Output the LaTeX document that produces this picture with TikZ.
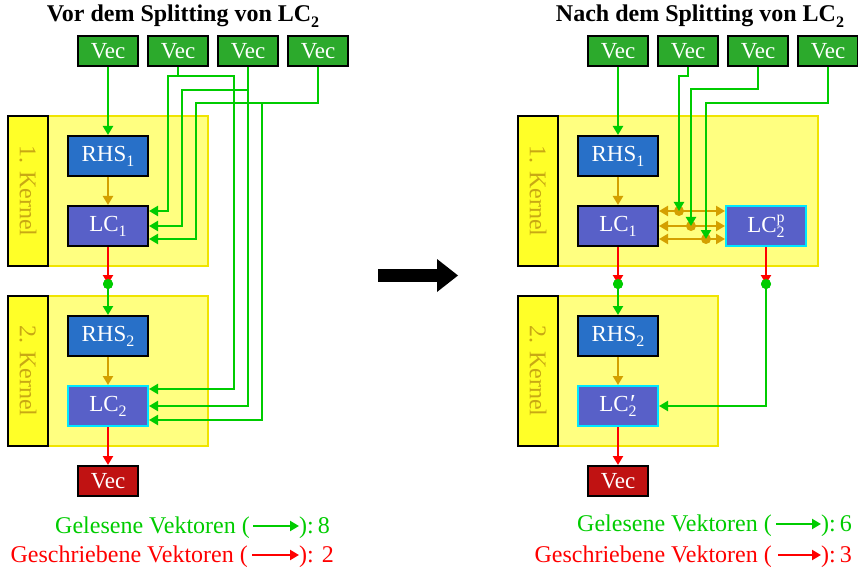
\documentclass[tikz,border=0pt]{standalone}
\usepackage{fontspec}
\setmainfont{Liberation Serif}
\usetikzlibrary{arrows.meta}
\definecolor{vecg}{RGB}{44,170,44}
\definecolor{vecr}{RGB}{192,18,18}
\definecolor{lgreen}{RGB}{0,204,0}
\definecolor{rhsb}{RGB}{40,112,200}
\definecolor{lcp}{RGB}{88,96,200}
\definecolor{cyanb}{RGB}{0,230,255}
\definecolor{gold}{RGB}{212,160,0}
\definecolor{bgfill}{RGB}{255,255,128}
\definecolor{bgline}{RGB}{240,228,0}
\definecolor{labfill}{RGB}{255,255,40}
\definecolor{labtext}{RGB}{200,168,20}
\newcommand{\myfs}{\fontsize{23}{25}\selectfont}
\newcommand{\mylg}{\fontsize{24}{26}\selectfont}
\newcommand{\sbs}[1]{\raisebox{-0.22em}{\fontsize{16}{16}\selectfont #1}}
\newcommand{\sps}[2]{\makebox[0pt][l]{\raisebox{0.42em}{\fontsize{16}{16}\selectfont #1}}\raisebox{-0.22em}{\fontsize{16}{16}\selectfont #2}}
\newcommand{\prm}[1]{\makebox[0pt][l]{\hspace{1.5pt}\raisebox{-0.02em}{\fontsize{26}{26}\selectfont\char"2032}}\raisebox{-0.22em}{\fontsize{16}{16}\selectfont #1}}
\begin{document}
\begin{tikzpicture}[x=1pt,y=-1pt,
  box/.style={draw=black, line width=2pt, text=white, minimum width=80pt, minimum height=40pt, inner sep=0pt, font=\myfs},
  vec/.style={box, fill=vecg, minimum width=60pt, minimum height=30pt},
  vecout/.style={box, fill=vecr, minimum width=60pt, minimum height=30pt},
  rhs/.style={box, fill=rhsb},
  lc/.style={box, fill=lcp},
  lcc/.style={box, fill=lcp, draw=cyanb},
  kbg/.style={draw=bgline, fill=bgfill, line width=2pt, minimum height=150pt, inner sep=0pt},
  klab/.style={draw=black, fill=labfill, line width=2pt, minimum width=150pt, minimum height=40pt, inner sep=0pt, rotate=-90, text=labtext, font=\mylg},
  gl/.style={draw=lgreen, line width=2.2pt},
  ga/.style={gl, -{Triangle[length=9pt,width=10pt]}},
  ra/.style={draw=red, line width=2.2pt, -{Triangle[length=9pt,width=10pt]}},
  oa/.style={draw=gold, line width=2.2pt, -{Triangle[length=9pt,width=10pt]}},
  dba/.style={draw=gold, line width=2.2pt, {Triangle[length=9pt,width=10pt]}-{Triangle[length=9pt,width=10pt]}},
  gdot/.style={circle, fill=lgreen, minimum size=10pt, inner sep=0pt},
  odot/.style={circle, fill=gold, minimum size=10pt, inner sep=0pt},
  ttl/.style={font=\bfseries\mylg, anchor=base},
  lgg/.style={text=lgreen, font=\mylg, inner sep=0pt},
  lgr/.style={text=red, font=\mylg, inner sep=0pt}
]
\useasboundingbox (0,0) rectangle (858,569);

% ================= LEFT =================
\node[ttl] (t1) at (183,22) {Vor dem Splitting von LC\sbs{2}};
\node[kbg, minimum width=200pt] (k1) at (108,191) {};
\node[klab] (k1l) at (28,191) {1. Kernel};
\node[kbg, minimum width=200pt] (k2) at (108,371) {};
\node[klab] (k2l) at (28,371) {2. Kernel};

\node[vec] (v1) at (108,51) {Vec};
\node[vec] (v2) at (178,51) {Vec};
\node[vec] (v3) at (248,51) {Vec};
\node[vec] (v4) at (318,51) {Vec};

\node[rhs] (rhs1) at (108,156) {RHS\sbs{1}};
\node[lc] (lc1) at (108,226) {LC\sbs{1}};
\node[rhs] (rhs2) at (108,336) {RHS\sbs{2}};
\node[lcc] (lc2) at (108,406) {LC\sbs{2}};
\node[vecout] (vo) at (108,481) {Vec};
\node[gdot] (d1) at (108,284) {};

\draw[ga] (v1) -- (rhs1);
\draw[oa] (rhs1) -- (lc1);
\draw[ra] (lc1.south) -- (d1.center);
\node[gdot] at (d1) {};
\draw[ga] (d1.center) -- (rhs2.north);
\draw[oa] (rhs2) -- (lc2);
\draw[ra] (lc2) -- (vo);

\coordinate (j2) at (178,76);
\draw[gl] (v2.south) -- (j2);
\draw[ga] (j2) -- (168,76) |- ([yshift=15pt]lc1.east);
\draw[ga] (j2) -- (234,76) |- ([yshift=17pt]lc2.east);
\draw[ga] (v3.south) |- (lc2.east);
\draw[ga] (248,90) -- (182,90) |- (lc1.east);
\draw[ga] (v4.south) |- (196,103) |- ([yshift=-13pt]lc1.east);
\draw[ga] (262,103) |- ([yshift=-14pt]lc2.east);

% legend left
\node[lgg, anchor=base east] (g1a) at (250,533) {Gelesene Vektoren (};
\node[lgg, anchor=base west] (g1b) at (299,533) {):\,8};
\draw[ga] ([yshift=7pt]g1a.base east) ++(3,0) -- ([yshift=7pt]g1b.base west);
\node[lgr, anchor=base east] (r1a) at (248,562) {Geschriebene Vektoren (};
\node[lgr, anchor=base west] (r1b) at (299,562) {): 2};
\draw[ra] ([yshift=7pt]r1a.base east) ++(4,0) -- ([yshift=7pt]r1b.base west);

% big arrow
\fill[black] (378,269) rectangle (439,282);
\fill[black] (437,259) -- (458,275.5) -- (437,292) -- cycle;

% ================= RIGHT =================
\node[ttl] (t2) at (700,22) {Nach dem Splitting von LC\sbs{2}};
\node[kbg, minimum width=300pt] (rk1) at (668,191) {};
\node[klab] (rk1l) at (538,191) {1. Kernel};
\node[kbg, minimum width=200pt] (rk2) at (618,371) {};
\node[klab] (rk2l) at (538,371) {2. Kernel};

\node[vec] (w1) at (618,51) {Vec};
\node[vec] (w2) at (688,51) {Vec};
\node[vec] (w3) at (758,51) {Vec};
\node[vec] (w4) at (828,51) {Vec};

\node[rhs] (rrhs1) at (618,156) {RHS\sbs{1}};
\node[lc] (rlc1) at (618,226) {LC\sbs{1}};
\node[lcc] (lc2p) at (766,226) {LC\sps{p}{2}};
\node[rhs] (rrhs2) at (618,336) {RHS\sbs{2}};
\node[lcc] (lc2s) at (618,406) {LC\prm{2}};
\node[vecout] (wo) at (618,481) {Vec};
\node[gdot] (d2) at (618,284) {};
\node[gdot] (d3) at (766,284) {};

\draw[ga] (w1) -- (rrhs1);
\draw[oa] (rrhs1) -- (rlc1);
\draw[ra] (rlc1.south) -- (d2.center);
\node[gdot] at (d2) {};
\draw[ga] (d2.center) -- (rrhs2.north);
\draw[oa] (rrhs2) -- (lc2s);
\draw[ra] (lc2s) -- (wo);
\draw[ra] (lc2p.south) -- (d3.center);
\node[gdot] at (d3) {};
\draw[ga] (d3.center) |- (lc2s.east);

\draw[dba] ([yshift=15pt]rlc1.east) -- ([yshift=15pt]lc2p.west);
\draw[dba] (rlc1.east) -- (lc2p.west);
\draw[dba] ([yshift=-13pt]rlc1.east) -- ([yshift=-13pt]lc2p.west);
\node[odot] (o1) at (679,211) {};
\node[odot] (o2) at (691,226) {};
\node[odot] (o3) at (706,239) {};
\draw[ga] (w2.south) |- (679,76) -- (o1.center);
\draw[ga] (w3.south) |- (691,89) -- (o2.center);
\draw[ga] (w4.south) |- (706,103) -- (o3.center);

% legend right
\node[lgg, anchor=base east] (g2a) at (772,531) {Gelesene Vektoren (};
\node[lgg, anchor=base west] (g2b) at (821,531) {):\,6};
\draw[ga] ([yshift=7pt]g2a.base east) ++(4,0) -- ([yshift=7pt]g2b.base west);
\node[lgr, anchor=base east] (r2a) at (772,562) {Geschriebene Vektoren (};
\node[lgr, anchor=base west] (r2b) at (821,562) {):\,3};
\draw[ra] ([yshift=7pt]r2a.base east) ++(6,0) -- ([yshift=7pt]r2b.base west);
\end{tikzpicture}
\end{document}
